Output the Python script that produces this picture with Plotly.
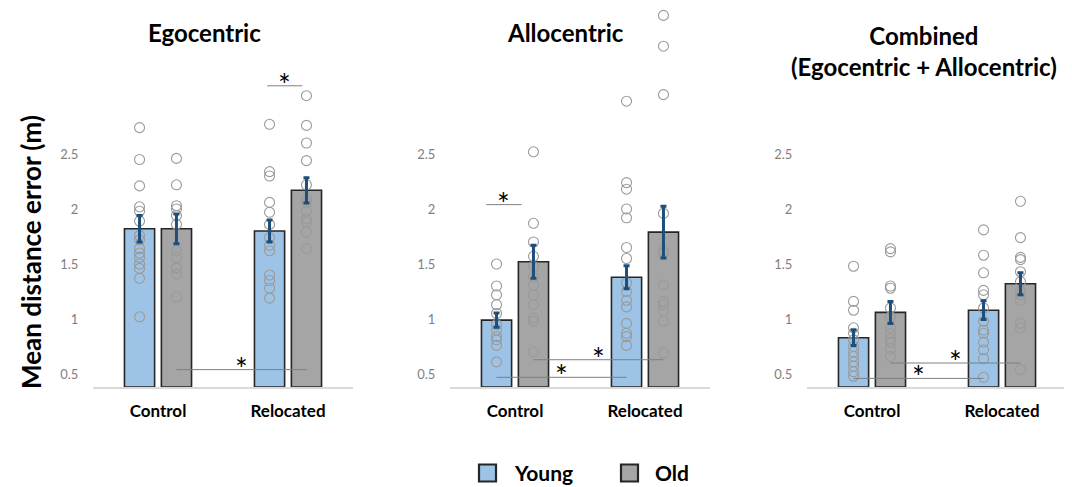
import plotly.graph_objects as go

# ---------------- data ----------------
CATEGORIES = ["Control", "Relocated"]
GROUPS = ["Young", "Old"]
PANEL_TITLES = ["Egocentric", "Allocentric", "Combined<br>(Egocentric + Allocentric)"]
Y_TICKS = [0.5, 1, 1.5, 2, 2.5]
Y_TICK_TEXT = ["0.5", "1", "1.5", "2", "2.5"]

# Egocentric
EGO_MEAN_YOUNG = [1.82, 1.80]
EGO_MEAN_OLD = [1.82, 2.17]
EGO_SE_YOUNG = [0.12, 0.10]
EGO_SE_OLD = [0.135, 0.115]
EGO_PTS_CTRL_YOUNG = [2.74, 2.45, 2.21, 2.02, 1.98, 1.89, 1.76, 1.72, 1.64, 1.60, 1.56, 1.50, 1.46, 1.37, 1.02]
EGO_PTS_CTRL_OLD = [2.46, 2.22, 2.03, 2.00, 1.94, 1.86, 1.62, 1.56, 1.47, 1.46, 1.41, 1.20]
EGO_PTS_REL_YOUNG = [2.77, 2.34, 2.30, 2.06, 1.97, 1.86, 1.74, 1.67, 1.62, 1.40, 1.35, 1.28, 1.19]
EGO_PTS_REL_OLD = [3.03, 2.76, 2.60, 2.44, 2.22, 2.09, 2.06, 1.98, 1.91, 1.88, 1.79, 1.64]

# Allocentric
ALLO_MEAN_YOUNG = [0.99, 1.38]
ALLO_MEAN_OLD = [1.52, 1.79]
ALLO_SE_YOUNG = [0.065, 0.105]
ALLO_SE_OLD = [0.15, 0.235]
ALLO_PTS_CTRL_YOUNG = [1.50, 1.30, 1.22, 1.13, 1.05, 0.95, 0.90, 0.84, 0.81, 0.76, 0.61]
ALLO_PTS_CTRL_OLD = [2.52, 1.87, 1.70, 1.57, 1.48, 1.38, 1.31, 1.22, 1.13, 1.01, 0.98, 0.70]
ALLO_PTS_REL_YOUNG = [2.98, 2.24, 2.18, 2.00, 1.92, 1.65, 1.55, 1.33, 1.25, 1.17, 1.11, 0.96, 0.87, 0.84, 0.76]
ALLO_PTS_REL_OLD = [3.76, 3.48, 3.04, 1.96, 1.62, 1.60, 1.31, 1.16, 1.13, 1.07, 0.98, 0.69]

# Combined
COMB_MEAN_YOUNG = [0.83, 1.08]
COMB_MEAN_OLD = [1.06, 1.32]
COMB_SE_YOUNG = [0.07, 0.085]
COMB_SE_OLD = [0.10, 0.10]
COMB_PTS_CTRL_YOUNG = [1.48, 1.16, 1.08, 0.92, 0.87, 0.81, 0.75, 0.70, 0.66, 0.61, 0.57, 0.52, 0.48]
COMB_PTS_CTRL_OLD = [1.64, 1.61, 1.30, 1.28, 1.10, 1.02, 0.92, 0.87, 0.82, 0.79, 0.73, 0.66]
COMB_PTS_REL_YOUNG = [1.81, 1.58, 1.42, 1.26, 1.22, 1.10, 0.98, 0.90, 0.87, 0.79, 0.72, 0.64, 0.47]
COMB_PTS_REL_OLD = [2.07, 1.74, 1.56, 1.54, 1.43, 1.34, 1.25, 1.22, 1.17, 0.96, 0.92, 0.54]

# significance brackets: (x start, x end, height) in category units / metres
EGO_SIG = [(0.84, 1.11, 3.12), (0.142, 1.142, 0.54)]
ALLO_SIG = [(-0.22, 0.05, 2.04), (0.142, 1.142, 0.63), (-0.142, 0.858, 0.47)]
COMB_SIG = [(0.142, 1.142, 0.60), (-0.142, 0.858, 0.46)]

# ---------------- style ----------------
FONT = "Lato"
YOUNG_COLOR = "#9DC3E6"
OLD_COLOR = "#A5A5A5"
EDGE = "#262626"
ERR_COLOR = "#1F4E79"
DOT_COLOR = "#9A9A9A"
SIG_COLOR = "#7F7F7F"
OFFSET = 0.142
BAR_W = 0.232
Y_RANGE = [0.382, 3.809]

PAGE_OFF = 8            # default body margin of the html page
FW, FH = 1064, 479      # figure size so that it fits the 1072x487 window
M_T, M_B = 2, 100


def px_x(page_x):
    return (page_x - PAGE_OFF) / FW


def px_y(page_y):
    return (FH - M_B - (page_y - PAGE_OFF)) / (FH - M_T - M_B)


DOMAINS = [(px_x(93), px_x(353)), (px_x(450), px_x(710)), (px_x(807), px_x(1067))]

panels = [
    (EGO_MEAN_YOUNG, EGO_MEAN_OLD, EGO_SE_YOUNG, EGO_SE_OLD,
     [EGO_PTS_CTRL_YOUNG, EGO_PTS_REL_YOUNG], [EGO_PTS_CTRL_OLD, EGO_PTS_REL_OLD], EGO_SIG),
    (ALLO_MEAN_YOUNG, ALLO_MEAN_OLD, ALLO_SE_YOUNG, ALLO_SE_OLD,
     [ALLO_PTS_CTRL_YOUNG, ALLO_PTS_REL_YOUNG], [ALLO_PTS_CTRL_OLD, ALLO_PTS_REL_OLD], ALLO_SIG),
    (COMB_MEAN_YOUNG, COMB_MEAN_OLD, COMB_SE_YOUNG, COMB_SE_OLD,
     [COMB_PTS_CTRL_YOUNG, COMB_PTS_REL_YOUNG], [COMB_PTS_CTRL_OLD, COMB_PTS_REL_OLD], COMB_SIG),
]
TITLE_X = [204, 565, 924]
TITLE_Y = [33, 33, 50.5]

fig = go.Figure()
annotations = []
shapes = []
cat_idx = list(range(len(CATEGORIES)))

for p, (my, mo, sy, so, pts_y, pts_o, sigs) in enumerate(panels):
    xa = "x" if p == 0 else f"x{p + 1}"
    ya = "y" if p == 0 else f"y{p + 1}"
    series = [
        (GROUPS[0], my, sy, pts_y, -OFFSET, YOUNG_COLOR),
        (GROUPS[1], mo, so, pts_o, OFFSET, OLD_COLOR),
    ]
    # bars
    for name, means, ses, pts, off, col in series:
        fig.add_trace(go.Bar(
            x=[i + off for i in cat_idx], y=[m - Y_RANGE[0] for m in means], base=Y_RANGE[0],
            width=BAR_W, marker=dict(color=col, line=dict(color=EDGE, width=1.6)),
            name=name, showlegend=False, xaxis=xa, yaxis=ya, hoverinfo="skip"))
    # individual points
    for name, means, ses, pts, off, col in series:
        for i, vals in zip(cat_idx, pts):
            fig.add_trace(go.Scatter(
                x=[i + off] * len(vals), y=vals, mode="markers",
                marker=dict(symbol="circle-open", size=10, color=DOT_COLOR, line=dict(width=1.1)),
                showlegend=False, xaxis=xa, yaxis=ya, cliponaxis=False, hoverinfo="skip"))
    # error bars on top
    for name, means, ses, pts, off, col in series:
        fig.add_trace(go.Scatter(
            x=[i + off for i in cat_idx], y=means, mode="markers",
            marker=dict(size=1, color="rgba(0,0,0,0)"),
            error_y=dict(type="data", array=ses, color=ERR_COLOR, thickness=3, width=3),
            showlegend=False, xaxis=xa, yaxis=ya, hoverinfo="skip"))
    # significance lines
    for x0, x1, yv in sigs:
        shapes.append(dict(type="line", xref=xa, yref=ya, x0=x0, x1=x1, y0=yv, y1=yv,
                           line=dict(color=SIG_COLOR, width=1)))
        annotations.append(dict(xref=xa, yref=ya, x=(x0 + x1) / 2, y=yv, text="*",
                                showarrow=False, yanchor="middle", yshift=2,
                                font=dict(family=FONT, size=30, color="#000000")))
    # panel title
    annotations.append(dict(xref="paper", yref="paper",
                            x=px_x(TITLE_X[p]), y=px_y(TITLE_Y[p]),
                            text="<b>" + PANEL_TITLES[p].replace("<br>", "</b><br><b>") + "</b>",
                            showarrow=False, xanchor="center", yanchor="middle",
                            font=dict(family=FONT, size=24, color="#000000")))

axis_common_y = dict(range=Y_RANGE, tickvals=Y_TICKS, ticktext=Y_TICK_TEXT, showgrid=False,
                     zeroline=False, showline=False, ticks="outside", ticklen=11,
                     tickcolor="rgba(0,0,0,0)", tickfont=dict(family=FONT, size=13, color="#7F7F7F"))
axis_common_x = dict(range=[-0.5, 1.5], tickvals=cat_idx,
                     ticktext=["<b>" + c + "</b>" for c in CATEGORIES], showgrid=False,
                     zeroline=False, showline=True, linecolor="#D9D9D9", linewidth=2,
                     ticks="outside", ticklen=8, tickcolor="rgba(0,0,0,0)",
                     tickfont=dict(family=FONT, size=17, color="#000000"))

layout = dict(width=FW, height=FH, margin=dict(l=0, r=0, t=M_T, b=M_B, autoexpand=False),
              plot_bgcolor="white", paper_bgcolor="white", showlegend=False,
              font=dict(family=FONT))
for p in range(3):
    xk = "xaxis" if p == 0 else f"xaxis{p + 1}"
    yk = "yaxis" if p == 0 else f"yaxis{p + 1}"
    layout[xk] = dict(axis_common_x, domain=list(DOMAINS[p]),
                      anchor="y" if p == 0 else f"y{p + 1}")
    layout[yk] = dict(axis_common_y, domain=[0, 1], anchor="x" if p == 0 else f"x{p + 1}")

# y-axis title
annotations.append(dict(xref="paper", yref="paper", x=px_x(31), y=px_y(252),
                        text="<b>Mean distance error (m)</b>", textangle=-90, showarrow=False,
                        xanchor="center", yanchor="middle",
                        font=dict(family=FONT, size=26, color="#000000")))

# legend (manual)
legend_items = [(GROUPS[0], YOUNG_COLOR, 479, 512), (GROUPS[1], OLD_COLOR, 621, 653)]
py_c = 473
for name, col, sx, tx in legend_items:
    shapes.append(dict(type="rect", xref="paper", yref="paper",
                       x0=px_x(sx), x1=px_x(sx + 17),
                       y0=px_y(py_c - 8.5), y1=px_y(py_c + 8.5),
                       fillcolor=col, line=dict(color=EDGE, width=2.2)))
    annotations.append(dict(xref="paper", yref="paper", x=px_x(tx), y=px_y(py_c),
                            text="<b>" + name + "</b>",
                            showarrow=False, xanchor="left", yanchor="middle",
                            font=dict(family=FONT, size=21, color="#000000")))

layout["annotations"] = annotations
layout["shapes"] = shapes
fig.update_layout(**layout)
fig.write_html("out.html")
